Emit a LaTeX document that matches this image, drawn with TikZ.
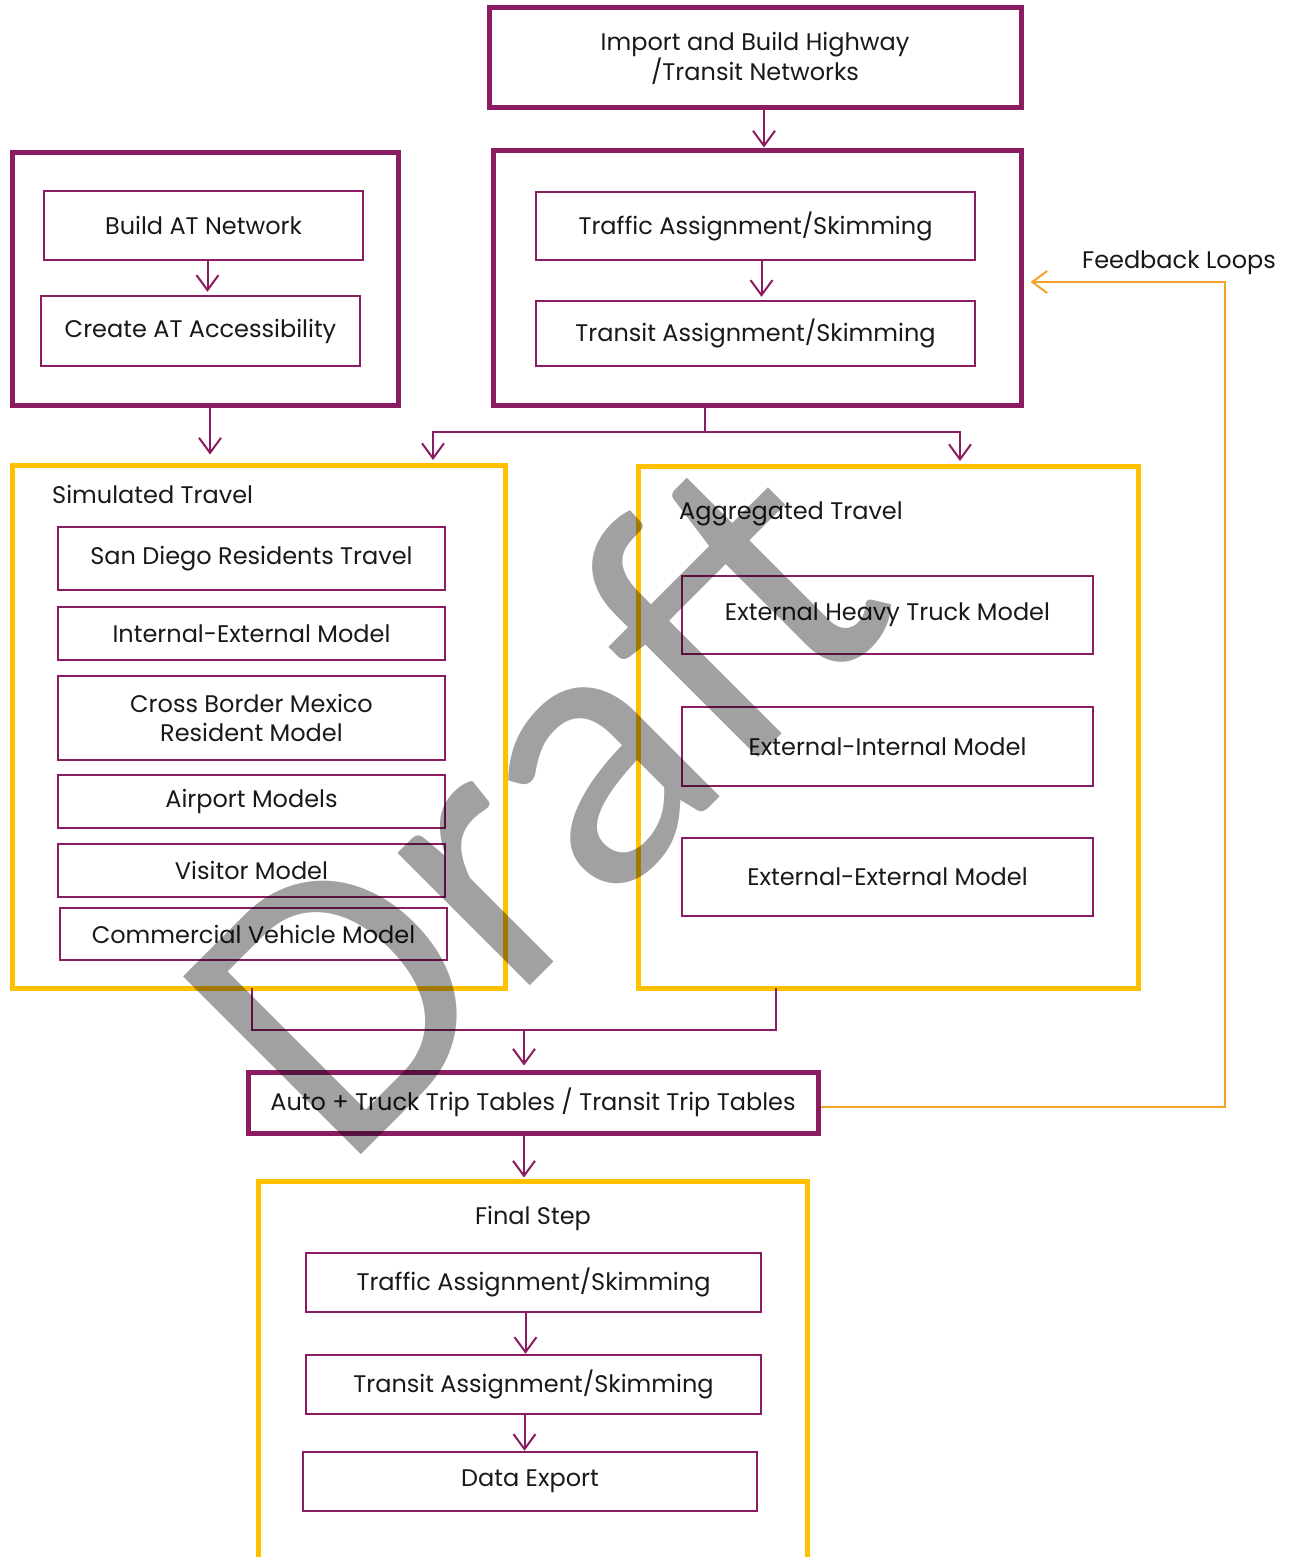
\documentclass[tikz,border=0pt]{standalone}
\usepackage{fontspec}
\setmainfont{Poppins}
\newfontfamily\draftfont{Carlito}
\usetikzlibrary{arrows.meta}

\definecolor{plum}{RGB}{140,28,98}
\definecolor{gold}{RGB}{255,192,0}
\definecolor{loopcol}{RGB}{244,163,40}

\begin{document}
\begin{tikzpicture}[%
      x=1pt, y=-1pt,
      every node/.style={font=\fontsize{24}{29}\selectfont, text=black!90, inner sep=0pt},
      outer/.style={draw=plum, line width=5pt, align=center},
      group/.style={draw=gold, line width=5pt},
      inner/.style={draw=plum, line width=2.4pt, align=center},
      link/.style={draw=plum, line width=2pt},
      arr/.style={link, -{Straight Barb[length=15pt,width=22pt]}, shorten >=3pt},
      ]
      \useasboundingbox (0,0) rectangle (1299,1557);
      \clip (0,0) rectangle (1299,1557);

      % top: networks
      \node [outer, minimum width=532pt, minimum height=100pt] (import) at (755,58)
            {Import and Build Highway\\/Transit Networks};

      \node [outer, minimum width=528pt, minimum height=254pt] (netbox) at (757,278) {};
      \node [inner, minimum width=439pt, minimum height=68pt] (traffic1) at (755.5,226) {Traffic Assignment/Skimming};
      \node [inner, minimum width=439pt, minimum height=65pt] (transit1) at (755.5,333.5) {Transit Assignment/Skimming};

      \node [outer, minimum width=386pt, minimum height=252pt] (atbox) at (205,279) {};
      \node [inner, minimum width=319pt, minimum height=69pt] (buildat) at (203.5,225.5) {Build AT Network};
      \node [inner, minimum width=319pt, minimum height=70pt] (createat) at (200.5,331) {Create AT Accessibility};

      % simulated travel
      \node [group, minimum width=493pt, minimum height=523pt] (simbox) at (258.5,726.5) {};
      \node [anchor=west] (simtitle) at (52,494) {Simulated Travel};
      \node [inner, minimum width=387pt, minimum height=63pt] (sandiego) at (251.5,558.5) {San Diego Residents Travel};
      \node [inner, minimum width=387pt, minimum height=53pt] (intext) at (251.5,633.5) {Internal-External Model};
      \node [inner, minimum width=387pt, minimum height=84pt] (crossborder) at (251.5,718) {Cross Border Mexico\\Resident Model};
      \node [inner, minimum width=387pt, minimum height=53pt] (airport) at (251.5,801.5) {Airport Models};
      \node [inner, minimum width=387pt, minimum height=53pt] (visitor) at (251.5,870.5) {Visitor Model};
      \node [inner, minimum width=387pt, minimum height=52pt] (commercial) at (253.5,934) {Commercial Vehicle Model};

      % aggregated travel
      \node [group, minimum width=500pt, minimum height=522pt] (aggbox) at (888,727) {};
      \node [anchor=west] (aggtitle) at (679,514) {Aggregated Travel};
      \node [inner, minimum width=411pt, minimum height=78pt] (heavytruck) at (887.5,615) {External Heavy Truck Model};
      \node [inner, minimum width=411pt, minimum height=79pt] (extint) at (887.5,746.5) {External-Internal Model};
      \node [inner, minimum width=411pt, minimum height=78pt] (extext) at (887.5,877) {External-External Model};

      % trip tables and final step
      \node [outer, minimum width=570pt, minimum height=61pt] (tripbox) at (533,1102.5)
            {Auto + Truck Trip Tables / Transit Trip Tables};
      \node [group, minimum width=549pt, minimum height=438pt] (finalbox) at (532.5,1400) {};
      \node (finaltitle) at (533,1218) {Final Step};
      \node [inner, minimum width=455pt, minimum height=59pt] (traffic2) at (533.5,1282.5) {Traffic Assignment/Skimming};
      \node [inner, minimum width=455pt, minimum height=59pt] (transit2) at (533.5,1384.5) {Transit Assignment/Skimming};
      \node [inner, minimum width=454pt, minimum height=59pt] (export) at (530,1481.5) {Data Export};

      % connectors
      \coordinate (split) at (705,432);
      \coordinate (simin) at (433,460);
      \coordinate (aggin) at (960,461);
      \coordinate (simout) at (252,988);
      \coordinate (aggout) at (776,988);
      \coordinate (merge) at (524,1030);
      \coordinate (fbcorner) at (1225,1107);
      \coordinate (fbtop) at (1225,282);

      \draw [arr, shorten >=1pt] ([xshift=9]import.south) -- ([xshift=9]import.south |- netbox.north);
      \draw [arr] ([xshift=6]traffic1.south) -- ([xshift=6]traffic1.south |- transit1.north);
      \draw [arr] ([xshift=4]buildat.south) -- ([xshift=4]buildat.south |- createat.north);
      \draw [arr, shorten >=8pt] ([xshift=5]atbox.south) -- ([xshift=5]atbox.south |- simbox.north);
      \draw [link] (split |- netbox.south) -- (split);
      \draw [arr, shorten >=0pt] (split) -| (simin);
      \draw [arr, shorten >=0pt] (split) -| (aggin);
      \draw [link] (simout) |- (merge) -| (aggout);
      \draw [arr, shorten >=4pt] (merge) -- (merge |- tripbox.north);
      \draw [arr, shorten >=1pt] (merge |- tripbox.south) -- (merge |- finalbox.north);
      \draw [arr, shorten >=0pt] ([xshift=-8]traffic2.south) -- ([xshift=-8]traffic2.south |- transit2.north);
      \draw [arr, shorten >=0pt] ([xshift=-9]transit2.south) -- ([xshift=-9]transit2.south |- export.north);

      \draw [color=loopcol, line width=2pt, -{Straight Barb[length=15pt,width=22pt]}, shorten >=7pt]
            (tripbox.east |- fbcorner) -- (fbcorner) -- (fbtop) -- (fbtop -| netbox.east);
      \node (fblabel) at (1179,263) {Feedback Loops};

      % watermark
      \node [rotate=45, text=black, opacity=0.37, font=\draftfont\fontsize{392}{392}\selectfont] (draft) at (530,798) {Draft};
\end{tikzpicture}
\end{document}
